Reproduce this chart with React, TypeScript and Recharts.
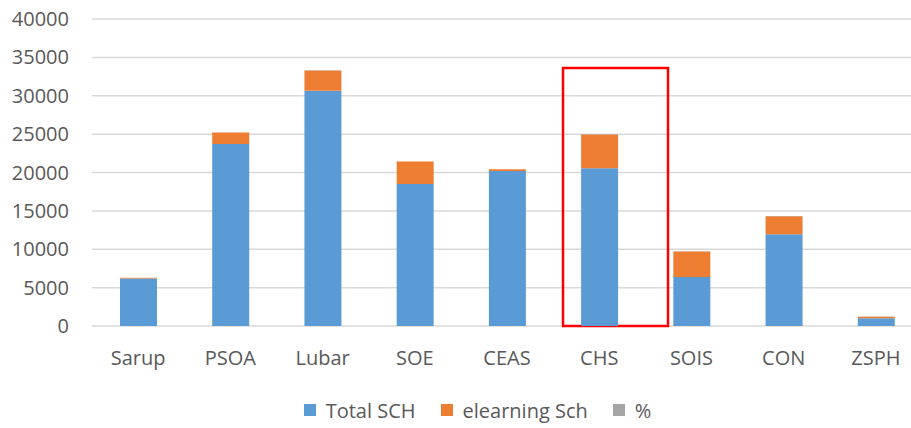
import React from 'react';
import { BarChart, Bar, XAxis, YAxis, CartesianGrid, Legend, ReferenceArea } from 'recharts';

const categories = ['Sarup', 'PSOA', 'Lubar', 'SOE', 'CEAS', 'CHS', 'SOIS', 'CON', 'ZSPH'];
const totalSch = [6200, 23700, 30650, 18500, 20200, 20550, 6400, 11950, 1000];
const elearningSch = [100, 1500, 2650, 2930, 230, 4400, 3300, 2350, 220];
const percent = [1.6, 6.3, 8.6, 15.8, 1.1, 21.4, 51.6, 19.7, 22.0];
const yTicks = [0, 5000, 10000, 15000, 20000, 25000, 30000, 35000, 40000];

// highlight box around CHS (on a helper 0..8 axis spanning the plot, and value units)
const boxDomain = [0, 8];
const boxX = [4.54, 5.552];
const boxY = [0, 33600];

const data = categories.map((name, i) => ({
  name,
  total: totalSch[i],
  elearning: elearningSch[i],
  pct: percent[i],
}));

const FONT = '"Open Sans", sans-serif';
const TEXT = '#595959';

const legendItems = [
  { label: 'Total SCH', color: '#5b9bd5' },
  { label: 'elearning Sch', color: '#ed7d31' },
  { label: '%', color: '#a5a5a5' },
];

const LegendContent = () => (
  <div style={{ display: 'flex', justifyContent: 'center', alignItems: 'center', height: 24, paddingLeft: 33, fontFamily: FONT, fontSize: 20, color: TEXT }}>
    {legendItems.map((it, i) => (
      <div key={it.label} style={{ display: 'flex', alignItems: 'center', marginLeft: i === 0 ? 0 : 25 }}>
        <div style={{ width: 12, height: 12, background: it.color, marginRight: 10 }} />
        <span>{it.label}</span>
      </div>
    ))}
  </div>
);

export default function App() {
  return (
    <div style={{ position: 'absolute', left: 0, top: 0, width: 911, height: 428, overflow: 'hidden', background: '#fff' }}>
      <BarChart width={922} height={428} data={data} margin={{ top: 19, right: 0, left: 0, bottom: 6 }} barSize={37}>
        <CartesianGrid vertical={false} stroke="#d9d9d9" strokeWidth={1.5} />
        <XAxis
          dataKey="name"
          axisLine={false}
          tickLine={false}
          tickSize={0}
          tickMargin={25}
          height={72}
          interval={0}
          tick={{ fill: TEXT, fontSize: 20, fontFamily: FONT }}
        />
        <XAxis xAxisId="box" type="number" domain={boxDomain} hide allowDataOverflow />
        <YAxis
          width={92}
          domain={[0, 40000]}
          ticks={yTicks}
          axisLine={false}
          tickLine={false}
          tickSize={0}
          tickMargin={23}
          tick={{ fill: TEXT, fontSize: 20, fontFamily: FONT }}
        />
        <Legend verticalAlign="bottom" height={24} content={<LegendContent />} />
        <Bar dataKey="total" name="Total SCH" stackId="a" fill="#5b9bd5" isAnimationActive={false} />
        <Bar dataKey="elearning" name="elearning Sch" stackId="a" fill="#ed7d31" isAnimationActive={false} />
        <Bar dataKey="pct" name="%" stackId="a" fill="#a5a5a5" isAnimationActive={false} />
        <ReferenceArea
          xAxisId="box"
          x1={boxX[0]}
          x2={boxX[1]}
          y1={boxY[0]}
          y2={boxY[1]}
          fill="none"
          fillOpacity={0}
          stroke="#ff0000"
          strokeWidth={2.5}
          ifOverflow="visible"
        />
      </BarChart>
    </div>
  );
}
